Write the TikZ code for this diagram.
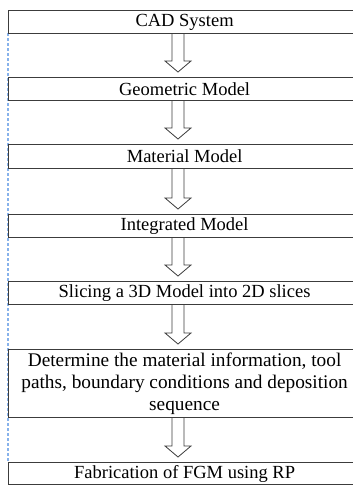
\documentclass[tikz,border=0pt]{standalone}
\usepackage{fontspec}
\setmainfont{Liberation Serif}
\usetikzlibrary{calc}
\definecolor{boxline}{RGB}{60,60,60}
\definecolor{guide}{RGB}{135,178,235}
\tikzset{
  stagebox/.style={draw=boxline, line width=1.2pt, anchor=north west, minimum width=352pt,
    inner sep=0pt, align=center, font=\fontsize{18.5}{21}\selectfont},
  widetext/.style={font=\fontsize{19.3}{22}\selectfont},
  blockarrow/.style={draw=boxline, line width=0.8pt, fill=white, line join=miter},
}
\newcommand\flowarrow[2]{%
  \draw[blockarrow] let \p1=(#1.south), \p2=(#2.north) in
    (172pt,\y1) -- (172pt,\y2+16pt) -- (165pt,\y2+16pt) -- (178pt,\y2+5pt)
    -- (191pt,\y2+16pt) -- (184pt,\y2+16pt) -- (184pt,\y1);}
\begin{document}
\begin{tikzpicture}[x=1pt,y=1pt]
\useasboundingbox (0,0) rectangle (353,-485);
\clip (0,0) rectangle (353,-485);
\draw[guide, line width=1.3pt, dash pattern=on 3pt off 2pt] (8,-33) coordinate (gtop) -- (8,-462) coordinate (gbot);
\node[stagebox, minimum height=23pt] (b1) at (8,-10) {CAD System};
\node[stagebox, minimum height=23pt] (b2) at (8,-77) {Geometric Model};
\node[stagebox, minimum height=24pt] (b3) at (8,-144) {Material Model};
\node[stagebox, minimum height=23pt] (b4) at (8,-214) {Integrated Model};
\node[stagebox, minimum height=23pt] (b5) at (8,-281) {Slicing a 3D Model into 2D slices};
\node[stagebox, widetext, minimum height=68pt] (b6) at (8,-349) {Determine the material information, tool\\paths, boundary conditions and deposition\\sequence};
\node[stagebox, minimum height=22pt] (b7) at (8,-462) {Fabrication of FGM using RP};
\flowarrow{b1}{b2}
\flowarrow{b2}{b3}
\flowarrow{b3}{b4}
\flowarrow{b4}{b5}
\flowarrow{b5}{b6}
\flowarrow{b6}{b7}
\end{tikzpicture}
\end{document}
